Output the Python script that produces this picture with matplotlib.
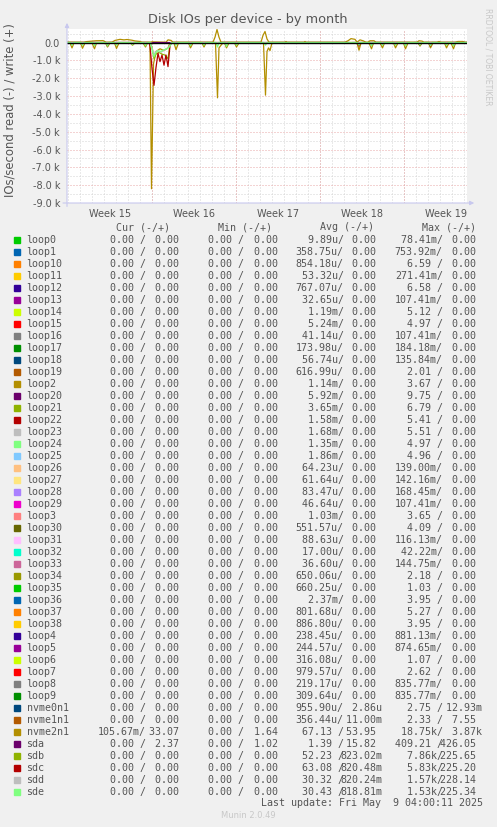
import numpy as np
import matplotlib
matplotlib.use("Agg")
import matplotlib.pyplot as plt
from matplotlib.ticker import FuncFormatter

# ---- time axis (hours since start of the month window) ----
span_hours = 800
week_labels = ["Week 15", "Week 16", "Week 17", "Week 18", "Week 19"]
week_starts = [2, 170, 338, 506, 674]

# ---- graph series (hour, IOs/s), read is drawn negative ----
nvme2n1_read = [(0, -20), (6, -20), (10, -300), (14, -20), (27, -20), (31, -320), (36, -20),
                (50, -20), (55, -350), (59, -20), (77, -20), (81, -250), (86, -20),
                (95, -20), (99, -330), (104, -20), (127, -20), (131, -150), (136, -20),
                (152, -20), (157, -250), (161, -20), (166, -50), (169, -8200), (173, -1200),
                (178, -500), (186, -350), (194, -450), (202, -300), (206, -20),
                (214, -20), (218, -400), (223, -20), (243, -20), (247, -300), (252, -20),
                (270, -20), (274, -250), (278, -20), (297, -20), (301, -3100), (304, -300),
                (308, -150), (312, -20), (315, -20), (319, -300), (324, -20),
                (335, -20), (339, -250), (344, -20), (393, -20), (397, -2950), (400, -500),
                (403, -300), (406, -450), (410, -20), (580, -20), (584, -430), (588, -20),
                (604, -20), (609, -350), (613, -20), (626, -20), (631, -300), (635, -20),
                (653, -20), (657, -300), (662, -20), (673, -20), (677, -350), (682, -20),
                (702, -20), (706, -200), (710, -20), (723, -20), (727, -300), (732, -20),
                (755, -20), (759, -300), (764, -20), (768, -20), (773, -350), (777, -20),
                (800, -20)]
nvme2n1_write = [(0, 20), (34, 20), (38, 50), (58, 100), (72, 110), (78, 20), (90, 20),
                 (96, 120), (106, 180), (114, 150), (120, 170), (130, 130), (136, 90),
                 (146, 60), (150, 20), (166, 20), (170, 40), (198, 20), (202, 150),
                 (208, 120), (212, 20), (292, 20), (296, 300), (300, 730), (304, 300),
                 (308, 20), (388, 20), (392, 400), (396, 620), (400, 200), (404, 20),
                 (436, 20), (438, 60), (440, 20), (474, 20), (476, 60), (478, 20),
                 (556, 20), (562, 100), (568, 220), (576, 180), (580, 20), (586, 150),
                 (592, 100), (598, 20), (602, 20), (606, 100), (614, 100), (618, 20),
                 (700, 20), (704, 100), (710, 80), (714, 20), (740, 20), (744, 60),
                 (748, 20), (776, 20), (782, 60), (792, 60), (796, 20), (800, 20)]
sda_read = [(0, 0), (166, 0), (169, -60), (172, 0), (296, 0), (300, -50), (304, 0),
            (392, 0), (396, -50), (400, 0), (563, 0), (567, -50), (571, 0), (596, 0),
            (600, -50), (604, 0), (686, 0), (690, -40), (694, 0), (708, 0), (712, -50),
            (716, 0), (782, 0), (786, -40), (790, 0), (800, 0)]
sdb_read = [(0, 0), (166, 0), (170, -250), (174, -900), (178, -650), (184, -550),
            (190, -650), (196, -700), (202, -900), (206, -100), (210, 0), (800, 0)]
sdc_read = [(0, 0), (78, 0), (81, -200), (84, 0), (164, 0), (166, -200), (170, -1450),
            (174, -2400), (178, -1400), (182, -600), (186, -1070), (190, -700),
            (194, -1270), (198, -700), (202, -1350), (206, -150), (210, 0), (581, 0),
            (584, -200), (587, 0), (703, 0), (706, -150), (709, 0), (724, 0),
            (727, -200), (730, 0), (800, 0)]
sdd_read = [(0, 0), (166, 0), (170, -300), (174, -650), (180, -450), (188, -550),
            (196, -400), (204, -250), (208, 0), (800, 0)]
sde_read = [(0, 0), (7, 0), (10, -150), (13, 0), (28, 0), (31, -150), (34, 0),
            (52, 0), (55, -180), (58, 0), (78, 0), (81, -200), (84, 0), (96, 0),
            (99, -150), (102, 0), (128, 0), (131, -120), (134, 0), (154, 0), (157, -180),
            (160, 0), (166, 0), (170, -400), (174, -800), (178, -550), (182, -450),
            (188, -500), (194, -400), (200, -350), (206, -200), (210, 0), (215, 0),
            (218, -150), (221, 0), (244, 0), (247, -180), (250, 0), (271, 0), (274, -150),
            (277, 0), (298, 0), (301, -250), (304, 0), (316, 0), (319, -220), (322, 0),
            (336, 0), (339, -150), (342, 0), (394, 0), (397, -150), (400, 0), (581, 0),
            (584, -150), (587, 0), (606, 0), (609, -180), (612, 0), (628, 0), (631, -150),
            (634, 0), (654, 0), (657, -150), (660, 0), (674, 0), (677, -180), (680, 0),
            (703, 0), (706, -150), (709, 0), (724, 0), (727, -180), (730, 0), (756, 0),
            (759, -150), (762, 0), (770, 0), (773, -180), (776, 0), (800, 0)]

# ---- legend table ----
names = ["loop0", "loop1", "loop10", "loop11", "loop12", "loop13", "loop14", "loop15",
         "loop16", "loop17", "loop18", "loop19", "loop2", "loop20", "loop21", "loop22",
         "loop23", "loop24", "loop25", "loop26", "loop27", "loop28", "loop29", "loop3",
         "loop30", "loop31", "loop32", "loop33", "loop34", "loop35", "loop36", "loop37",
         "loop38", "loop4", "loop5", "loop6", "loop7", "loop8", "loop9", "nvme0n1",
         "nvme1n1", "nvme2n1", "sda", "sdb", "sdc", "sdd", "sde"]
palette = ["#00CC00", "#0066B3", "#FF8000", "#FFCC00", "#330099", "#990099", "#CCFF00",
           "#FF0000", "#808080", "#008F00", "#00487D", "#B35A00", "#B38F00", "#6B006B",
           "#8FB300", "#B30000", "#BEBEBE", "#80FF80", "#80C9FF", "#FFC080", "#FFE680",
           "#AA80FF", "#EE00CC", "#FF8080", "#666600", "#FFBFFF", "#00FFCC", "#CC6699",
           "#999900"]
avg_read = [9.89e-6, 358.75e-6, 854.18e-6, 53.32e-6, 767.07e-6, 32.65e-6, 1.19e-3, 5.24e-3,
            41.14e-6, 173.98e-6, 56.74e-6, 616.99e-6, 1.14e-3, 5.92e-3, 3.65e-3, 1.58e-3,
            1.68e-3, 1.35e-3, 1.86e-3, 64.23e-6, 61.64e-6, 83.47e-6, 46.64e-6, 1.03e-3,
            551.57e-6, 88.63e-6, 17.00e-6, 36.60e-6, 650.06e-6, 660.25e-6, 2.37e-3, 801.68e-6,
            886.80e-6, 238.45e-6, 244.57e-6, 316.08e-6, 979.57e-6, 219.17e-6, 309.64e-6,
            955.90e-6, 356.44e-6, 67.13, 1.39, 52.23, 63.08, 30.32, 30.43]
max_read = [78.41e-3, 753.92e-3, 6.59, 271.41e-3, 6.58, 107.41e-3, 5.12, 4.97,
            107.41e-3, 184.18e-3, 135.84e-3, 2.01, 3.67, 9.75, 6.79, 5.41,
            5.51, 4.97, 4.96, 139.00e-3, 142.16e-3, 168.45e-3, 107.41e-3, 3.65,
            4.09, 116.13e-3, 42.22e-3, 144.75e-3, 2.18, 1.03, 3.95, 5.27,
            3.95, 881.13e-3, 874.65e-3, 1.07, 2.62, 835.77e-3, 835.77e-3,
            2.75, 2.33, 18750, 409.21, 7860, 5830, 1570, 1530]
avg_write = {"nvme0n1": 2.86e-6, "nvme1n1": 11.00e-3, "nvme2n1": 53.95, "sda": 15.82,
             "sdb": 823.02e-3, "sdc": 820.48e-3, "sdd": 820.24e-3, "sde": 818.81e-3}
max_write = {"nvme0n1": 12.93e-3, "nvme1n1": 7.55, "nvme2n1": 3870, "sda": 426.05,
             "sdb": 225.65, "sdc": 225.20, "sdd": 228.14, "sde": 225.34}
cur_vals = {"nvme2n1": (105.67e-3, 33.07), "sda": (0.0, 2.37)}
min_vals = {"nvme2n1": (0.0, 1.64), "sda": (0.0, 1.02)}


def si(v):
    if v == 0:
        return "%6.2f " % 0
    for f, p in [(1e3, "k"), (1, " "), (1e-3, "m")]:
        if abs(v) >= f:
            return "%6.2f%s" % (v / f, p)
    return "%6.2f%s" % (v / 1e-6, "u")


W, H = 497, 827
fig = plt.figure(figsize=(W / 100, H / 100), dpi=100, facecolor="#F0F0F0")
ax = fig.add_axes([67 / W, 1 - 203 / H, 400 / W, 174 / H])
ax.set_facecolor("white")
ax.set_xlim(0, span_hours)
ax.set_ylim(-9000, 760)
for s in ax.spines.values():
    s.set_visible(False)

# grid
dot = (0, (1, 2))
for h in np.arange(2, span_hours, 24):
    ax.axvline(h, color="#D4D4D4", lw=0.72, ls=dot, zorder=0)
for h in week_starts[1:]:
    ax.axvline(h, color="#E8A8A8", lw=0.72, ls=dot, zorder=0.5)
for v in np.arange(-8500, 760, 1000):
    ax.axhline(v, color="#D4D4D4", lw=0.72, ls=dot, zorder=0)
for v in np.arange(-9000, 1, 1000):
    ax.axhline(v, color="#E8A8A8", lw=0.72, ls=dot, zorder=0.5)

# series, in munin order
series = [(nvme2n1_read, "#B38F00"), (nvme2n1_write, "#B38F00"), (sda_read, "#6B006B"),
          (sdb_read, "#8FB300"), (sdc_read, "#B30000"), (sdd_read, "#BEBEBE"),
          (sde_read, "#80FF80")]
for pts, col in series:
    t, v = zip(*pts)
    ax.plot(t, v, color=col, lw=0.9, zorder=2)
ax.axhline(0, color="black", lw=1.0, zorder=3)

# ticks
ax.set_yticks(np.arange(-9000, 1, 1000))
ax.yaxis.set_major_formatter(FuncFormatter(lambda v, p: "0.0" if v == 0 else "%.1f k" % (v / 1000)))
ax.set_xticks([s + 84 for s in week_starts])
ax.set_xticklabels(week_labels)
ax.tick_params(axis="both", length=0, labelsize=7, labelcolor="#555555")
ax.tick_params(axis="y", pad=5)
ax.tick_params(axis="x", pad=4)

# axis arrows
arrow = dict(arrowstyle="-|>", color="#C8C8EE", lw=0.8, mutation_scale=6, shrinkA=0, shrinkB=0)
ax.annotate("", xy=(1.018, 0), xytext=(-0.01, 0), xycoords="axes fraction",
            arrowprops=arrow, annotation_clip=False)
ax.annotate("", xy=(0, 1.035), xytext=(0, -0.02), xycoords="axes fraction",
            arrowprops=arrow, annotation_clip=False)

# titles
fig.text(248 / W, 1 - 20 / H, "Disk IOs per device - by month", ha="center", va="center",
         fontsize=9.3, color="#555555")
fig.text(10 / W, 1 - 110 / H, "IOs/second read (-) / write (+)", ha="center", va="center",
         rotation=90, fontsize=8.4, color="#555555")
fig.text(488 / W, 1 - 57 / H, "RRDTOOL / TOBI OETIKER", ha="center", va="center",
         rotation=270, fontsize=5.5, color="#C8C8C8")

# legend table
mono = "DejaVu Sans Mono"
fs = 7.2
tcol = "#555555"
col_x = [97.8, 196.5, 295.5, 394.8]
head_x = [116, 219, 321, 422.7]
for x, lab in zip(head_x, ["Cur (-/+)", "Min (-/+)", "Avg (-/+)", "Max (-/+)"]):
    fig.text((x - 0.5) / W, 1 - 227.3 / H, lab, ha="left", va="center",
             family=mono, fontsize=fs, color=tcol)

y0, dy = 239.7, 12.0
for i, name in enumerate(names):
    y = y0 + i * dy
    fig.patches.append(plt.Rectangle((14 / W, 1 - (y + 3) / H), 6 / W, 6 / H,
                                     transform=fig.transFigure, color=palette[i % len(palette)]))
    fig.text(26.5 / W, 1 - y / H, name, ha="left", va="center", family=mono,
             fontsize=fs, color=tcol)
    cells = [cur_vals.get(name, (0.0, 0.0)), min_vals.get(name, (0.0, 0.0)),
             (avg_read[i], avg_write.get(name, 0.0)), (max_read[i], max_write.get(name, 0.0))]
    for x, (r, w) in zip(col_x, cells):
        fig.text(x / W, 1 - y / H, si(r) + "/", ha="left", va="center", family=mono,
                 fontsize=fs, color=tcol)
        fig.text((x + 45) / W, 1 - y / H, si(w), ha="left", va="center", family=mono,
                 fontsize=fs, color=tcol)

fig.text(483 / W, 1 - 803.3 / H, "Last update: Fri May  9 04:00:11 2025", ha="right",
         va="center", family=mono, fontsize=fs, color=tcol)
fig.text(248 / W, 1 - 815.7 / H, "Munin 2.0.49", ha="center", va="center",
         fontsize=6, color="#C8C8C8")

fig.savefig("out.png", dpi=100, facecolor=fig.get_facecolor())
